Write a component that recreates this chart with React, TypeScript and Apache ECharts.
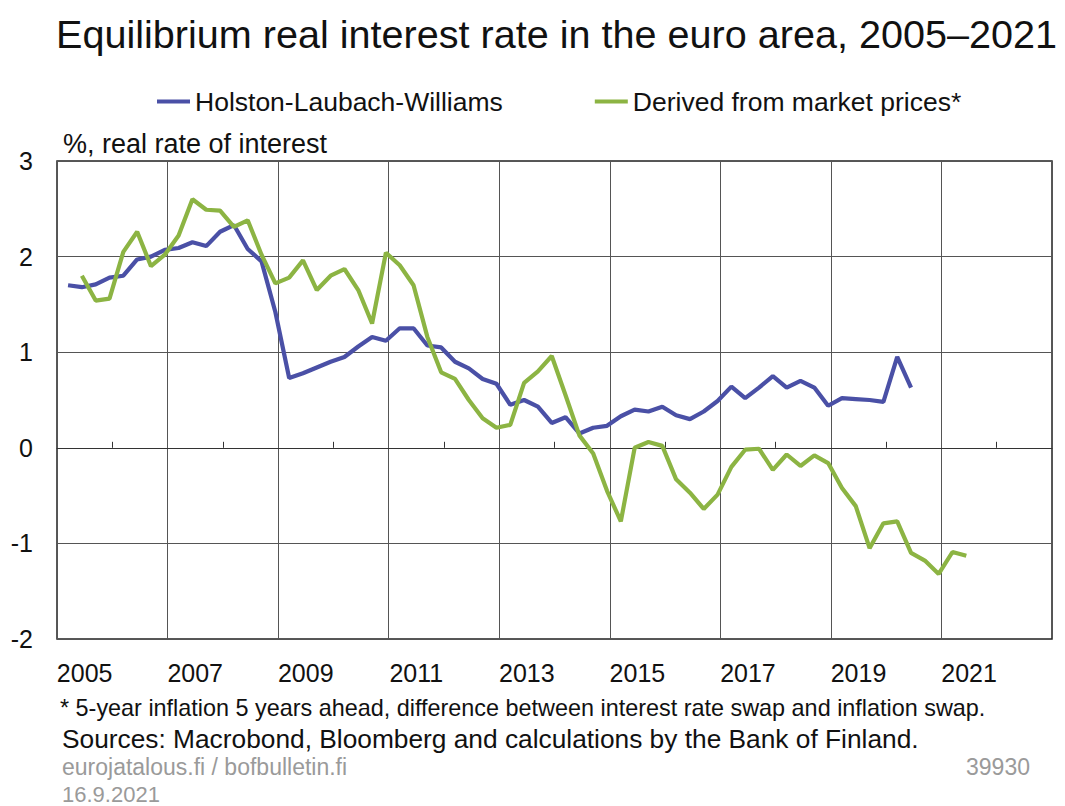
import React, { useEffect, useRef } from "react";
import * as echarts from "echarts";

const TITLE = "Equilibrium real interest rate in the euro area, 2005–2021";
const AXIS_NAME = "%, real rate of interest";
const SERIES_NAMES = ["Holston-Laubach-Williams", "Derived from market prices*"];
const FOOTNOTE = "* 5-year inflation 5 years ahead, difference between interest rate swap and inflation swap.";
const SOURCES = "Sources: Macrobond, Bloomberg and calculations by the Bank of Finland.";
const SITE = "eurojatalous.fi / bofbulletin.fi";
const DATE = "16.9.2021";
const CHART_ID = "39930";

const BASE_YEAR = 2005;
const END_YEAR = 2023;
const X_LABEL_YEARS = [2005, 2007, 2009, 2011, 2013, 2015, 2017, 2019, 2021];
const Y_MIN = -2;
const Y_MAX = 3;

// quarterly data
const hlwStart = { year: 2005, quarter: 1 };
const hlwValues = [
  1.70, 1.68, 1.71, 1.78, 1.80, 1.97, 2.00, 2.07, 2.09, 2.15,
  2.11, 2.26, 2.33, 2.08, 1.95, 1.42, 0.73, 0.78, 0.84, 0.90,
  0.95, 1.06, 1.16, 1.12, 1.25, 1.25, 1.07, 1.05, 0.90, 0.83,
  0.72, 0.67, 0.45, 0.50, 0.43, 0.26, 0.32, 0.15, 0.21, 0.23,
  0.33, 0.40, 0.38, 0.43, 0.34, 0.30, 0.38, 0.49, 0.64, 0.52,
  0.63, 0.75, 0.63, 0.70, 0.63, 0.44, 0.52, 0.51, 0.50, 0.48,
  0.95, 0.63,
];
const marketStart = { year: 2005, quarter: 2 };
const marketValues = [
  1.80, 1.54, 1.56, 2.05, 2.26, 1.90, 2.02, 2.22, 2.60, 2.49,
  2.48, 2.31, 2.38, 2.02, 1.72, 1.78, 1.96, 1.65, 1.80, 1.87,
  1.65, 1.30, 2.04, 1.91, 1.70, 1.16, 0.79, 0.72, 0.50, 0.31,
  0.21, 0.24, 0.68, 0.80, 0.96, 0.55, 0.13, -0.06, -0.45, -0.77,
  0.00, 0.06, 0.02, -0.33, -0.47, -0.64, -0.49, -0.20, -0.02, -0.01,
  -0.23, -0.07, -0.19, -0.08, -0.16, -0.42, -0.61, -1.05, -0.79, -0.77,
  -1.10, -1.18, -1.32, -1.09, -1.13,
];

const BLUE = "#4A50A6";
const GREEN = "#8CB443";
const FONT = "'Liberation Sans', Arial, Helvetica, sans-serif";
const QUARTER_OFFSET = 0.2;

function toPoints(start: { year: number; quarter: number }, values: number[]) {
  return values.map((v, i) => [
    start.year - BASE_YEAR + (start.quarter - 1 + i) * 0.25 + QUARTER_OFFSET,
    v,
  ]);
}

// labels sit in the middle of each labelled year
function yearLabel(v: number) {
  const raw = BASE_YEAR + v - 0.5;
  const yr = Math.round(raw);
  if (Math.abs(raw - yr) > 1e-6) return "";
  return X_LABEL_YEARS.includes(yr) ? String(yr) : "";
}

export default function App() {
  const ref = useRef<HTMLDivElement>(null);
  useEffect(() => {
    if (!ref.current) return;
    const chart = echarts.init(ref.current, null, { renderer: "svg" });
    const span = END_YEAR - BASE_YEAR;
    chart.setOption({
      animation: false,
      backgroundColor: "#fff",
      textStyle: { fontFamily: FONT },
      title: {
        text: TITLE,
        left: 56,
        top: 14,
        padding: 0,
        textStyle: { fontSize: 39.6, fontWeight: "normal", color: "#111", fontFamily: FONT },
      },
      legend: {
        data: SERIES_NAMES,
        left: 152,
        top: 83,
        icon: "rect",
        itemWidth: 33,
        itemHeight: 4,
        itemGap: 92,
        textStyle: { fontSize: 26.5, color: "#111", fontFamily: FONT },
      },
      grid: {
        left: 57,
        top: 161,
        width: 995,
        height: 478,
        show: true,
        borderColor: "#222",
        borderWidth: 1.5,
        backgroundColor: "transparent",
      },
      xAxis: [
        {
          type: "value",
          min: 0,
          max: span,
          interval: 2,
          position: "bottom",
          axisLine: { show: true, onZero: true, lineStyle: { color: "#333", width: 1 } },
          axisTick: { show: false, inside: true },
          minorTick: { show: true, splitNumber: 2, length: 6, lineStyle: { color: "#333", width: 1 } },
          axisLabel: { show: false },
          splitLine: { show: true, lineStyle: { color: "#555", width: 1 } },
        },
        {
          type: "value",
          min: 0,
          max: span,
          interval: 0.5,
          position: "bottom",
          axisLine: { show: false, onZero: false },
          axisTick: { show: false },
          splitLine: { show: false },
          axisLabel: {
            fontSize: 25,
            color: "#111",
            margin: 21,
            fontFamily: FONT,
            formatter: (v: number) => yearLabel(v),
          },
        },
      ],
      yAxis: {
        type: "value",
        min: Y_MIN,
        max: Y_MAX,
        interval: 1,
        axisLine: { show: false },
        axisTick: { show: false },
        axisLabel: { fontSize: 25, color: "#111", margin: 24, fontFamily: FONT },
        splitLine: { show: true, lineStyle: { color: "#555", width: 1 } },
      },
      series: [
        {
          name: SERIES_NAMES[0],
          type: "line",
          xAxisIndex: 0,
          data: toPoints(hlwStart, hlwValues),
          showSymbol: false,
          symbol: "none",
          lineStyle: { color: BLUE, width: 4.2 },
          itemStyle: { color: BLUE },
        },
        {
          name: SERIES_NAMES[1],
          type: "line",
          xAxisIndex: 0,
          data: toPoints(marketStart, marketValues),
          showSymbol: false,
          symbol: "none",
          lineStyle: { color: GREEN, width: 4.2 },
          itemStyle: { color: GREEN },
        },
      ],
      graphic: [
        {
          type: "text",
          x: 63,
          y: 144,
          style: { text: AXIS_NAME, fontSize: 27, fontFamily: FONT, fill: "#111", align: "left", verticalAlign: "middle" },
        },
        {
          type: "text",
          x: 60,
          y: 708,
          style: { text: FOOTNOTE, fontSize: 23.4, fontFamily: FONT, fill: "#111", align: "left", verticalAlign: "middle" },
        },
        {
          type: "text",
          x: 62,
          y: 739,
          style: { text: SOURCES, fontSize: 26.3, fontFamily: FONT, fill: "#111", align: "left", verticalAlign: "middle" },
        },
        {
          type: "text",
          x: 62,
          y: 767,
          style: { text: SITE, fontSize: 23, fontFamily: FONT, fill: "#9a9a9a", align: "left", verticalAlign: "middle" },
        },
        {
          type: "text",
          x: 62,
          y: 794,
          style: { text: DATE, fontSize: 22, fontFamily: FONT, fill: "#9a9a9a", align: "left", verticalAlign: "middle" },
        },
        {
          type: "text",
          x: 1030,
          y: 767,
          style: { text: CHART_ID, fontSize: 23, fontFamily: FONT, fill: "#9a9a9a", align: "right", verticalAlign: "middle" },
        },
      ],
    });
    return () => chart.dispose();
  }, []);
  return (
    <div
      ref={ref}
      style={{ position: "fixed", left: 0, top: 0, width: 1065, height: 806, background: "#fff" }}
    />
  );
}
